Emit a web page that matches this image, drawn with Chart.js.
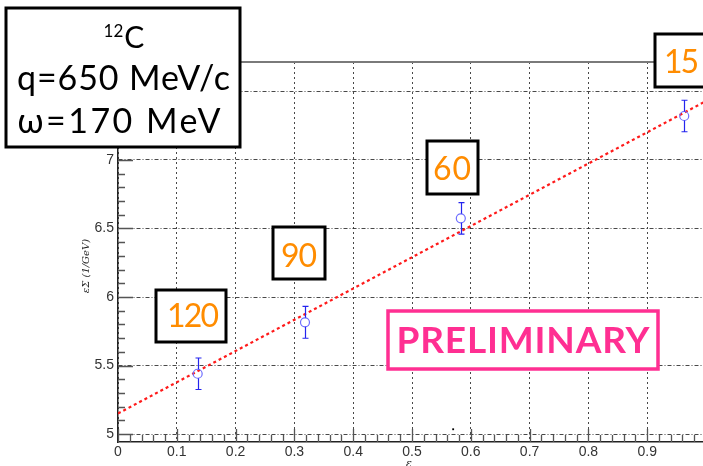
<!DOCTYPE html>
<html>
<head>
<meta charset="utf-8">
<script src="https://cdn.jsdelivr.net/npm/chart.js@4/dist/chart.umd.min.js"></script>
<style>
  html, body { margin: 0; padding: 0; background: #fff; overflow: hidden; }
  #wrap { position: absolute; left: 0; top: 0; width: 712px; height: 466px; }
</style>
</head>
<body>
<div id="wrap"><canvas id="c" width="712" height="466"></canvas></div>
<script>
// Measured points: epsilon vs epsilon*Sigma (1/GeV), with symmetric errors
const epsilon = [0.1355, 0.318, 0.583, 0.963];
const epsSigma = [5.44, 5.815, 6.574, 7.321];
const epsSigmaErr = [0.115, 0.116, 0.115, 0.115];
// Scattering angle of each point (degrees)
const angleLabels = ['120', '90', '60', '15'];

// Straight-line fit (end points)
const fitX = [0.0, 1.0];
const fitY = [5.15, 7.43];

// Stray marker near the bottom of the frame
const strayX = [0.57];
const strayY = [5.035];

// Axis ticks
const xMajorTicks = [0, 0.1, 0.2, 0.3, 0.4, 0.5, 0.6, 0.7, 0.8, 0.9];
const yMajorTicks = [5, 5.5, 6, 6.5, 7, 7.5];

// Annotation boxes (pixel layout)
const angleBoxes = [
  { x0: 156, y0: 290, x1: 226, y1: 342, cx: 193, base: 327, w: 52 },
  { x0: 273, y0: 227, x1: 325, y1: 279, cx: 299, base: 267, w: 36 },
  { x0: 427, y0: 141, x1: 478, y1: 194, cx: 452, base: 180, w: 38 },
  { x0: 655, y0: 34, x1: 716, y1: 87, cx: 681.5, base: 73, w: 31 }
];

const UI_FONT = 'Lato, "Open Sans", sans-serif';
const TICK_FONT = '"Liberation Sans", Arial, sans-serif';

// Draws text centred at cx, sized within [minSize, maxSize] and then spaced toward the given width
function drawFitted(ctx, text, cx, base, width, size, minSize, maxSize, weight, color) {
  ctx.save();
  ctx.letterSpacing = '0px';
  ctx.font = weight + ' ' + size + 'px ' + UI_FONT;
  let w = ctx.measureText(text).width;
  const s = Math.max(minSize, Math.min(maxSize, size * width / w));
  ctx.font = weight + ' ' + s.toFixed(2) + 'px ' + UI_FONT;
  w = ctx.measureText(text).width;
  const n = text.length;
  let ls = n > 1 ? (width - w) / (n - 1) : 0;
  ls = Math.max(-2, Math.min(2.5, ls));
  ctx.letterSpacing = ls.toFixed(2) + 'px';
  const wTot = w + ls * (n - 1);
  ctx.fillStyle = color;
  ctx.textAlign = 'left';
  ctx.textBaseline = 'alphabetic';
  ctx.fillText(text, cx - wTot / 2, base);
  ctx.restore();
}

function box(ctx, x0, y0, x1, y1, color, lw) {
  ctx.save();
  ctx.fillStyle = '#fff';
  ctx.fillRect(x0, y0, x1 - x0, y1 - y0);
  ctx.strokeStyle = color;
  ctx.lineWidth = lw;
  ctx.strokeRect(x0, y0, x1 - x0, y1 - y0);
  ctx.restore();
}

const frameAndTicks = {
  id: 'frameAndTicks',
  afterDatasetsDraw(chart) {
    const ctx = chart.ctx;
    const xs = chart.scales.x, ys = chart.scales.y;
    const a = chart.chartArea;
    ctx.save();
    // error bars
    ctx.strokeStyle = '#2424ee';
    ctx.lineWidth = 1.2;
    epsilon.forEach((e, i) => {
      const px = Math.round(xs.getPixelForValue(e)) + 0.5;
      const top = ys.getPixelForValue(epsSigma[i] + epsSigmaErr[i]);
      const bot = ys.getPixelForValue(epsSigma[i] - epsSigmaErr[i]);
      const c = ys.getPixelForValue(epsSigma[i]);
      ctx.beginPath();
      ctx.moveTo(px, top); ctx.lineTo(px, c - 4.5);
      ctx.moveTo(px, c + 4.5); ctx.lineTo(px, bot);
      ctx.moveTo(px - 3, top); ctx.lineTo(px + 3, top);
      ctx.moveTo(px - 3, bot); ctx.lineTo(px + 3, bot);
      ctx.stroke();
    });
    // top frame line
    ctx.strokeStyle = '#7a7a7a';
    ctx.lineWidth = 2;
    ctx.beginPath();
    ctx.moveTo(a.left, a.top); ctx.lineTo(a.right, a.top);
    ctx.stroke();
    // tick marks drawn inside the frame
    ctx.strokeStyle = '#555';
    ctx.lineWidth = 1.3;
    ctx.beginPath();
    for (let k = 50; k <= 77; k++) {
      const v = k / 10;
      const py = Math.round(ys.getPixelForValue(v)) + 0.5;
      const len = (k % 5 === 0) ? 15 : 7;
      ctx.moveTo(a.left, py); ctx.lineTo(a.left + len, py);
    }
    for (let k = 0; k <= 50; k++) {
      const v = k / 50;
      const px = Math.round(xs.getPixelForValue(v)) + 0.5;
      const len = (k % 5 === 0) ? 13 : 7;
      ctx.moveTo(px, a.bottom); ctx.lineTo(px, a.bottom - len);
    }
    ctx.stroke();
    ctx.restore();
  },
  afterDraw(chart) {
    const ctx = chart.ctx;
    // axis titles
    ctx.save();
    ctx.fillStyle = '#222';
    ctx.font = 'italic 10px "DejaVu Serif", "Liberation Serif", serif';
    ctx.textAlign = 'center';
    ctx.textBaseline = 'middle';
    ctx.translate(86, 266);
    ctx.rotate(-Math.PI / 2);
    ctx.fillText('εΣ (1/GeV)', 0, 0);
    ctx.restore();
    ctx.save();
    ctx.fillStyle = '#222';
    ctx.font = 'italic 11px "DejaVu Serif", "Liberation Serif", serif';
    ctx.textAlign = 'center';
    ctx.textBaseline = 'middle';
    ctx.fillText('ε', 409, 464);
    ctx.restore();

    // kinematics box
    box(ctx, 6, 8, 240, 147, '#000', 3);
    ctx.save();
    ctx.fillStyle = '#000';
    ctx.textBaseline = 'alphabetic';
    ctx.font = '400 17px ' + UI_FONT;
    const wSup = ctx.measureText('12').width;
    ctx.font = '400 30px ' + UI_FONT;
    const wC = ctx.measureText('C').width;
    const start = 124 - (wSup + 1 + wC) / 2;
    ctx.font = '400 17px ' + UI_FONT;
    ctx.fillText('12', start, 37);
    ctx.font = '400 30px ' + UI_FONT;
    ctx.fillText('C', start + wSup + 1, 48);
    ctx.restore();
    drawFitted(ctx, 'q=650 MeV/c', 123.5, 90, 213, 31, 31, 34, '400', '#000');
    drawFitted(ctx, 'ω=170 MeV', 119, 133, 208, 31, 31, 34, '400', '#000');

    // angle boxes
    angleBoxes.forEach((b, i) => {
      box(ctx, b.x0, b.y0, b.x1, b.y1, '#000', 3);
      drawFitted(ctx, angleLabels[i], b.cx, b.base, b.w, 32, 32, 32, '400', '#ff8c00');
    });

    // preliminary stamp
    box(ctx, 388, 311, 658, 369, '#ff2f92', 3.5);
    drawFitted(ctx, 'PRELIMINARY', 523, 353, 253, 35, 35, 37, '700', '#ff2f92');
  }
};

const gridColor = 'rgba(40,40,40,0.85)';

new Chart(document.getElementById('c'), {
  type: 'scatter',
  data: {
    datasets: [
      {
        label: 'data',
        data: epsilon.map((x, i) => ({ x: x, y: epsSigma[i] })),
        pointStyle: 'circle',
        pointRadius: 4.5,
        borderColor: '#6d6dff',
        backgroundColor: 'rgba(0,0,0,0)',
        borderWidth: 1.2,
        order: 1
      },
      {
        label: 'fit',
        type: 'line',
        data: fitX.map((x, i) => ({ x: x, y: fitY[i] })),
        borderColor: '#ff1a1a',
        borderWidth: 2.2,
        borderDash: [3, 3],
        pointRadius: 0,
        fill: false,
        order: 2
      },
      {
        label: 'stray',
        data: strayX.map((x, i) => ({ x: x, y: strayY[i] })),
        pointStyle: 'rect',
        pointRadius: 1.3,
        backgroundColor: '#000',
        borderColor: '#000',
        borderWidth: 0,
        order: 3
      }
    ]
  },
  options: {
    responsive: false,
    animation: false,
    devicePixelRatio: 1,
    layout: { padding: { top: 62, right: 6, left: 0, bottom: 0 } },
    plugins: { legend: { display: false }, tooltip: { enabled: false } },
    scales: {
      x: {
        type: 'linear',
        min: 0,
        max: 1,
        afterBuildTicks: s => { s.ticks = xMajorTicks.map(v => ({ value: v })); },
        afterFit: s => { s.height = 24; },
        ticks: {
          padding: 2,
          maxRotation: 0,
          autoSkip: false,
          color: '#333',
          font: { family: TICK_FONT, size: 14 },
          callback: v => (v === 0 ? '0' : v.toFixed(1))
        },
        grid: {
          drawTicks: false,
          color: gridColor,
          lineWidth: 1
        },
        border: { display: true, color: '#222', width: 1.5, dash: [2, 3] }
      },
      y: {
        type: 'linear',
        min: 4.942,
        max: 7.715,
        afterBuildTicks: s => { s.ticks = yMajorTicks.map(v => ({ value: v })); },
        afterFit: s => { s.width = 118; },
        ticks: {
          padding: 4,
          autoSkip: false,
          color: '#333',
          font: { family: TICK_FONT, size: 14 },
          callback: v => String(v)
        },
        grid: {
          drawTicks: false,
          color: gridColor,
          lineWidth: 1
        },
        border: { display: true, color: '#222', width: 1.5, dash: [4, 2, 1, 2] }
      }
    }
  },
  plugins: [frameAndTicks]
});
</script>
</body>
</html>
